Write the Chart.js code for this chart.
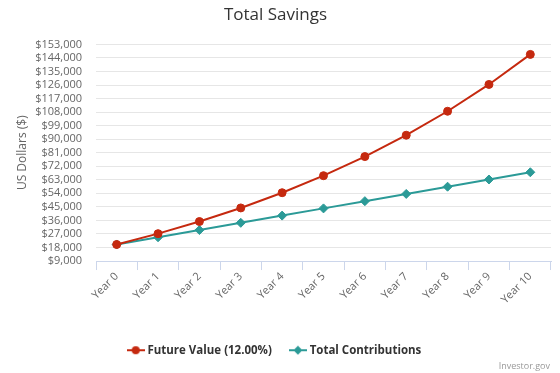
<!DOCTYPE html>
<html>
<head>
<meta charset="utf-8">
<script src="https://cdn.jsdelivr.net/npm/chart.js@4"></script>
<style>
  html, body { margin: 0; padding: 0; background: #fff; }
  #wrap { width: 560px; height: 373px; position: relative; }
</style>
</head>
<body>
<div id="wrap"><canvas id="savingsChart"></canvas></div>
<script>
// Chart data
const years = ["Year 0", "Year 1", "Year 2", "Year 3", "Year 4", "Year 5",
  "Year 6", "Year 7", "Year 8", "Year 9", "Year 10"];
const futureValue = [20000, 27200, 35264, 44296, 54411, 65740, 78429, 92641, 108558, 126385, 146351];
const totalContributions = [20000, 24800, 29600, 34400, 39200, 44000, 48800, 53600, 58400, 63200, 68000];
const yMin = 9000;
const yMax = 153000;
const yStep = 9000;

const redColor = "#c5290f";
const tealColor = "#2b9a97";
const fontFamily = "'Open Sans', 'DejaVu Sans', sans-serif";

// Legend symbol: short line with marker on it
function legendSymbol(color, shape) {
  const c = document.createElement("canvas");
  c.width = 18;
  c.height = 10;
  const g = c.getContext("2d");
  g.strokeStyle = color;
  g.fillStyle = color;
  g.lineWidth = 2;
  g.beginPath();
  g.moveTo(0, 5);
  g.lineTo(18, 5);
  g.stroke();
  g.beginPath();
  if (shape === "circle") {
    g.arc(9, 5, 4, 0, Math.PI * 2);
  } else {
    g.moveTo(9, 0.5);
    g.lineTo(13.5, 5);
    g.lineTo(9, 9.5);
    g.lineTo(4.5, 5);
    g.closePath();
  }
  g.fill();
  return c;
}

// Small "Investor.gov" credit in the bottom right
const creditPlugin = {
  id: "credit",
  afterDraw(chart) {
    const ctx = chart.ctx;
    ctx.save();
    ctx.font = "9px " + fontFamily;
    ctx.fillStyle = "#999999";
    ctx.textAlign = "right";
    ctx.textBaseline = "middle";
    ctx.fillText("Investor.gov", 550, 366);
    ctx.restore();
  }
};

const ctx = document.getElementById("savingsChart");
new Chart(ctx, {
  type: "line",
  data: {
    labels: years,
    datasets: [
      {
        label: "Future Value (12.00%)",
        data: futureValue,
        borderColor: redColor,
        backgroundColor: redColor,
        borderWidth: 2,
        pointStyle: "circle",
        pointRadius: 4,
        pointBorderWidth: 1,
        tension: 0,
        legendSymbol: legendSymbol(redColor, "circle")
      },
      {
        label: "Total Contributions",
        data: totalContributions,
        borderColor: tealColor,
        backgroundColor: tealColor,
        borderWidth: 2,
        pointStyle: "rectRot",
        pointRadius: 4.5,
        pointBorderWidth: 1,
        tension: 0,
        legendSymbol: legendSymbol(tealColor, "diamond")
      }
    ]
  },
  options: {
    responsive: true,
    maintainAspectRatio: false,
    animation: false,
    layout: { padding: { top: 0, right: 9, bottom: 7, left: 0 } },
    plugins: {
      title: {
        display: true,
        text: "Total Savings",
        color: "#333333",
        font: { family: fontFamily, size: 17, weight: "normal" },
        padding: { top: 5, bottom: 19 }
      },
      legend: {
        position: "bottom",
        labels: {
          color: "#333333",
          font: { family: fontFamily, size: 11.5, weight: "bold" },
          usePointStyle: true,
          boxWidth: 12,
          boxHeight: 10,
          pointStyleWidth: 12,
          padding: 20,
          generateLabels(chart) {
            return chart.data.datasets.map((ds, i) => ({
              text: ds.label,
              fontColor: "#333333",
              pointStyle: ds.legendSymbol,
              fillStyle: ds.borderColor,
              strokeStyle: ds.borderColor,
              lineWidth: 0,
              hidden: false,
              datasetIndex: i
            }));
          }
        }
      },
      tooltip: { enabled: false }
    },
    scales: {
      x: {
        offset: true,
        afterFit(scale) { scale.height = scale.height + 18; },
        grid: {
          offset: true,
          drawOnChartArea: false,
          drawTicks: true,
          tickLength: 9,
          color: "#ccd6eb"
        },
        border: { display: true, color: "#ccd6eb" },
        ticks: {
          color: "#666666",
          font: { family: fontFamily, size: 11 },
          minRotation: 45,
          maxRotation: 45,
          padding: 0,
          autoSkip: false
        }
      },
      y: {
        min: yMin,
        max: yMax,
        afterFit(scale) { scale.width = 96; },
        grid: { color: "#e6e6e6", drawTicks: false },
        border: { display: false },
        ticks: {
          stepSize: yStep,
          autoSkip: false,
          color: "#666666",
          padding: 14,
          font: { family: fontFamily, size: 11 },
          callback: (v) => "$" + v.toLocaleString("en-US")
        },
        title: {
          display: true,
          text: "US Dollars ($)",
          color: "#666666",
          font: { family: fontFamily, size: 12 },
          padding: { top: 15, bottom: 0 }
        }
      }
    }
  },
  plugins: [creditPlugin]
});
</script>
</body>
</html>
